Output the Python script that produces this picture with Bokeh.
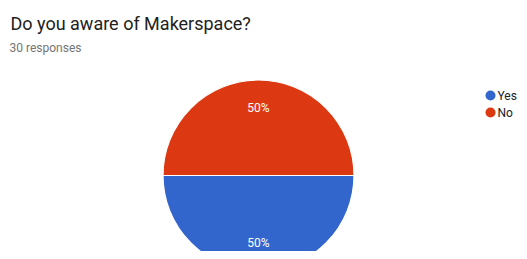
import numpy as np
from bokeh.plotting import figure
from bokeh.models import Range1d, ColumnDataSource
from bokeh.core.properties import value
from bokeh.embed import file_html
from bokeh.resources import INLINE

# ---- data ----
title_text = "Do you aware of Makerspace?"
subtitle_text = "30 responses"
categories = ["Yes", "No"]
counts = [15, 15]
colors = ["#3366CC", "#DC3912"]

W, H = 519, 251
p = figure(width=W, height=H, output_backend="svg", toolbar_location=None,
           x_range=Range1d(0, W), y_range=Range1d(0, H),
           min_border=0, background_fill_color="white", border_fill_color="white")
p.axis.visible = False
p.grid.visible = False
p.outline_line_color = None

OX, OY = 8, 8  # offset of content inside the figure

# pie geometry (layout)
cx, cy, R = 250 + OX, 84 - OY, 95.5
total = sum(counts)
fr = np.array(counts) / total
cum = np.concatenate([[0], np.cumsum(fr)])
start = -cum[:-1] * 2 * np.pi
end = -cum[1:] * 2 * np.pi
src = ColumnDataSource(dict(start=end, end=start, color=colors, cat=categories))
p.wedge(x=cx, y=cy, radius=R, start_angle="start", end_angle="end",
        fill_color="color", line_color="white", line_width=1.2, source=src)

mid = (start + end) / 2
lr = 0.705 * R
labels = [f"{round(f*100)}%" for f in fr]
p.text(x=list(cx + lr * np.cos(mid)), y=list(cy + lr * np.sin(mid)), text=labels,
       text_color="white", text_font=value("Roboto"), text_font_size="12px",
       text_align="center", text_baseline="middle")

# title / subtitle
p.text(x=[2 + OX], y=[H - 14.7 - OY], text=[title_text], text_font=value("Roboto"),
       text_font_size="18px", text_color="#212121", text_baseline="alphabetic")
p.text(x=[1 + OX], y=[H - 39.7 - OY], text=[subtitle_text], text_font=value("Roboto"),
       text_font_size="12px", text_color="#757575", text_baseline="alphabetic")

# legend (kept inside the figure so its texts are not cut)
lx, ly0, dy = 490, H - 87 - OY, -17
ys = [ly0 + i * dy for i in range(len(categories))]
p.scatter(x=[lx] * len(categories), y=ys, size=10, fill_color=colors, line_color=None)
p.text(x=[lx + 7] * len(categories), y=ys, text=categories, text_font=value("Roboto"),
       text_font_size="12px", text_color="#222222", text_baseline="middle")

open("out.html", "w").write(file_html(p, INLINE))
